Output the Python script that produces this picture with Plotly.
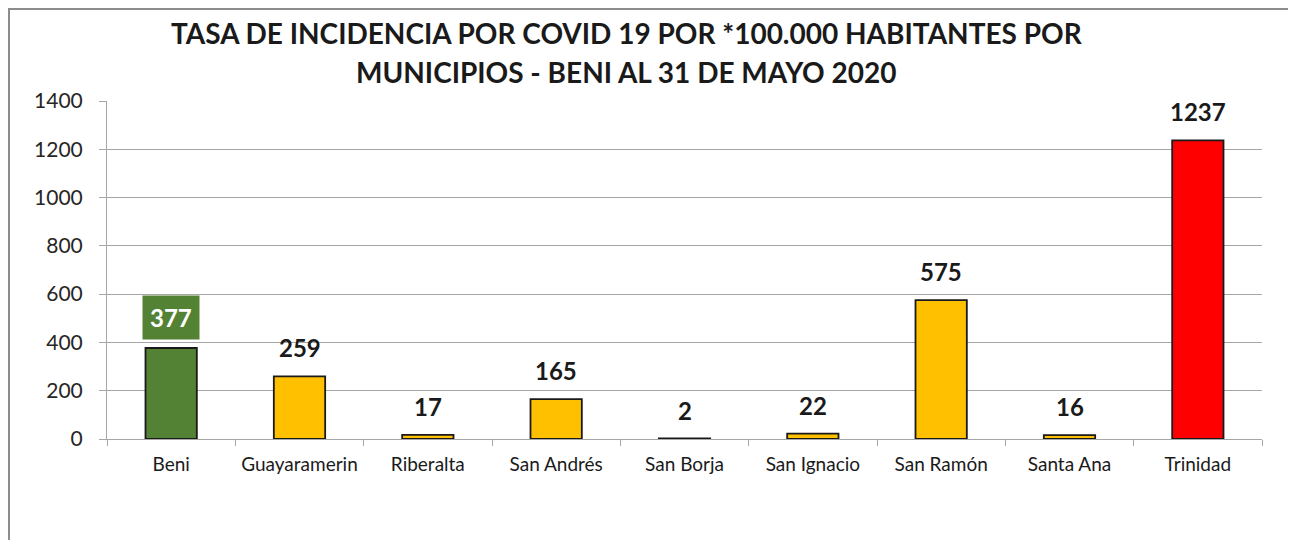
import plotly.graph_objects as go

categories = ["Beni", "Guayaramerin", "Riberalta", "San Andrés", "San Borja",
              "San Ignacio", "San Ramón", "Santa Ana", "Trinidad"]
values = [377, 259, 17, 165, 2, 22, 575, 16, 1237]
bar_colors = ["#548235", "#FFC000", "#FFC000", "#FFC000", "#FFC000",
              "#FFC000", "#FFC000", "#FFC000", "#FF0000"]
y_ticks = [0, 200, 400, 600, 800, 1000, 1200, 1400]
title_lines = ["TASA DE INCIDENCIA POR COVID 19 POR *100.000 HABITANTES POR",
               "MUNICIPIOS - BENI AL 31 DE MAYO 2020"]

FONT = "Lato"
W, H = 1288, 532
L, R, T, B = 99, 34, 93, 101
PW, PH = W - L - R, H - T - B

fig = go.Figure()
fig.add_trace(go.Bar(
    x=categories, y=values,
    marker=dict(color=bar_colors, line=dict(color="#1a1a1a", width=1.8)),
    width=0.4,
    hoverinfo="x+y",
))

annotations = []
for c, v in zip(categories, values):
    if c == "Beni":
        annotations.append(dict(
            x=c, y=v, xref="x", yref="y", text=f"<b>{v}</b>", showarrow=False,
            yanchor="bottom", yshift=8, bgcolor="#548235", borderpad=7,
            font=dict(family=FONT, size=24, color="white")))
    else:
        annotations.append(dict(
            x=c, y=v, xref="x", yref="y", text=f"<b>{v}</b>", showarrow=False,
            yanchor="bottom", yshift=12,
            font=dict(family=FONT, size=24, color="#1a1a1a")))

for line, ys in zip(title_lines, [68, 29]):
    annotations.append(dict(
        x=0.5, y=1, xref="paper", yref="paper", xanchor="center", yanchor="middle",
        yshift=ys, xshift=-58, text=f"<b>{line}</b>", showarrow=False,
        font=dict(family=FONT, size=28, color="#1a1a1a")))

fig.update_layout(
    width=W, height=H,
    margin=dict(l=L, r=R, t=T, b=B, autoexpand=False),
    paper_bgcolor="white", plot_bgcolor="white",
    showlegend=False,
    annotations=annotations,
    font=dict(family=FONT, color="#222222"),
    shapes=[
        dict(type="line", xref="paper", yref="paper", x0=-L / PW, x1=1 + R / PW,
             y0=1 + (T - 1) / PH, y1=1 + (T - 1) / PH, line=dict(color="#8c8c8c", width=2)),
        dict(type="line", xref="paper", yref="paper", x0=-(L - 1) / PW, x1=-(L - 1) / PW,
             y0=1 + T / PH, y1=-B / PH, line=dict(color="#8c8c8c", width=2)),
    ],
)
fig.update_yaxes(
    range=[0, 1400], tickvals=y_ticks, showgrid=True, gridcolor="#a6a6a6", gridwidth=1,
    showline=True, linecolor="#a6a6a6", linewidth=1, ticks="outside", ticklen=7,
    tickcolor="#a6a6a6", tickfont=dict(family=FONT, size=21, color="#262626"),
    ticklabelstandoff=12, zeroline=False, fixedrange=True,
)
fig.update_xaxes(
    showline=True, linecolor="#a6a6a6", linewidth=1, ticks="outside", ticklen=6,
    tickcolor="#a6a6a6", tickson="boundaries", ticklabelstandoff=8, tickangle=0,
    tickfont=dict(family=FONT, size=19, color="#1a1a1a"), fixedrange=True,
)

fig.write_html("out.html", config={"displayModeBar": False})
